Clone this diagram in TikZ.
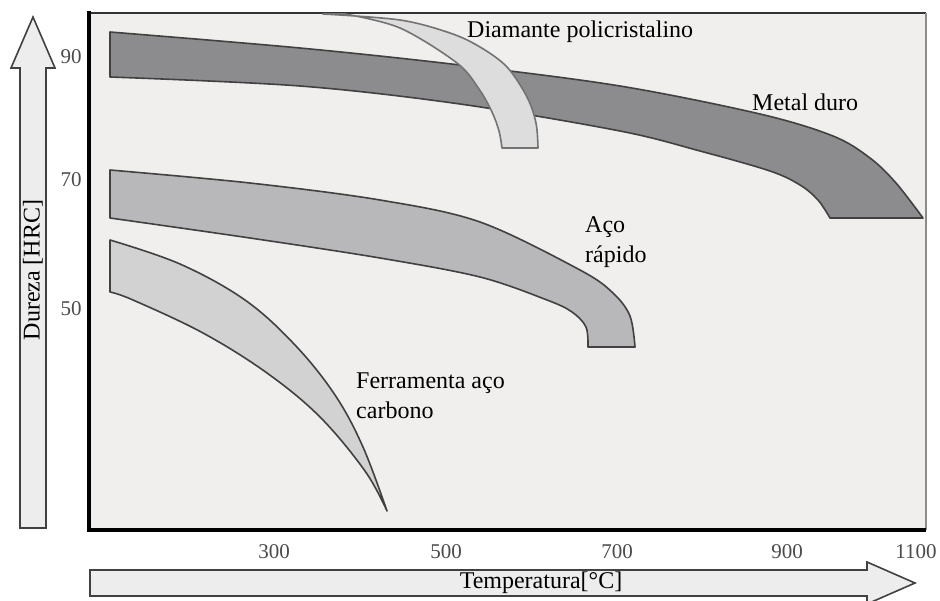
\documentclass[tikz,border=0pt]{standalone}
\usepackage{fontspec}
\setmainfont{Liberation Serif}
\definecolor{plotbg}{RGB}{241,239,238}
\definecolor{metalfill}{RGB}{140,140,142}
\definecolor{diafill}{RGB}{221,221,221}
\definecolor{hssfill}{RGB}{184,184,186}
\definecolor{carbfill}{RGB}{210,210,210}
\definecolor{edge}{RGB}{65,65,65}
\definecolor{tickgray}{RGB}{75,75,75}
\begin{document}
\begin{tikzpicture}[x=1pt, y=-1pt,
  band/.style={draw=edge, line width=1.6pt, line join=round},
  lbl/.style={font=\fontsize{24}{30}\selectfont, inner sep=0pt, align=left},
  tick/.style={font=\fontsize{21}{24}\selectfont, text=tickgray, inner sep=0pt},
  bigarrow/.style={draw=edge, line width=1.6pt, fill=black!7, line join=miter}]
  \useasboundingbox[fill=white] (0, 0) rectangle (940, 600);
  \fill[plotbg] (89, 13) rectangle (926, 530);
  \draw[line width=1.2pt, black!80] (89, 13) -- (926, 13);
  \draw[line width=1.2pt, black!45] (926, 13) -- (926, 530);
  \filldraw[band, fill=metalfill] plot[smooth, tension=.55] coordinates {(110, 32) (300, 48) (460, 65) (620, 86) (760, 114) (833, 136) (870, 158) (896, 183) (923, 218)}
    -- plot[smooth, tension=.55] coordinates {(830, 218) (818, 200) (800, 185) (770, 171) (700, 151) (620, 131) (460, 104) (300, 86) (110, 77)} -- cycle;
  \filldraw[band, draw=black!55, fill=diafill] plot[smooth, tension=.55] coordinates {(323, 14) (400, 20) (450, 33) (480, 47) (507, 67) (527, 97) (536, 123) (538, 148)}
    -- plot[smooth, tension=.55] coordinates {(502, 148) (499, 131) (492, 112) (479, 89) (457, 63) (400, 28) (345, 14)} -- cycle;
  \filldraw[band, fill=hssfill] plot[smooth, tension=.55] coordinates {(110, 170) (250, 183) (380, 200) (480, 222) (580, 270) (613, 293) (630, 316) (635, 347)}
    -- plot[smooth, tension=.55] coordinates {(588, 347) (586, 327) (572, 312) (547, 300) (480, 277) (380, 258) (250, 238) (110, 218)} -- cycle;
  \filldraw[band, fill=carbfill] plot[smooth, tension=.6] coordinates {(110, 240) (180, 264) (245, 300) (295, 345) (335, 395) (363, 447) (387, 511)}
    -- plot[smooth, tension=.6] coordinates {(387, 511) (365, 471) (320, 417) (267, 373) (203, 333) (133, 300) (110, 292)} -- cycle;
  \draw[line width=4pt] (89, 11) -- (89, 530) -- (926, 530);
  \filldraw[bigarrow] (20, 528) -- (20, 68) -- (11, 68) -- (33, 17) -- (55, 68) -- (46, 68) -- (46, 528) -- cycle;
  \filldraw[bigarrow] (90, 570) -- (867, 570) -- (867, 562) -- (915, 583) -- (867, 604) -- (867, 596) -- (90, 596) -- cycle;
  \node[lbl, rotate=90] (ylabel) at (33, 270) {Dureza [HRC]};
  \node[lbl] (xlabel) at (541, 583) {Temperatura[°C]};
  \node[tick] (y90) at (71, 57) {90};
  \node[tick] (y70) at (71, 180) {70};
  \node[tick] (y50) at (71, 309) {50};
  \node[tick] (x300) at (274, 552) {300};
  \node[tick] (x500) at (446, 552) {500};
  \node[tick] (x700) at (617, 552) {700};
  \node[tick] (x900) at (787, 552) {900};
  \node[tick] (x1100) at (916, 552) {1100};
  \node[lbl, anchor=base west] (diamante) at (467, 37) {Diamante policristalino};
  \node[lbl, anchor=base west] (metalduro) at (752, 110) {Metal duro};
  \node[lbl, anchor=north west] (acorapido) at (585, 216) {Aço\\rápido};
  \node[lbl, anchor=north west] (carbono) at (356, 373) {Ferramenta aço\\carbono};
\end{tikzpicture}
\end{document}
